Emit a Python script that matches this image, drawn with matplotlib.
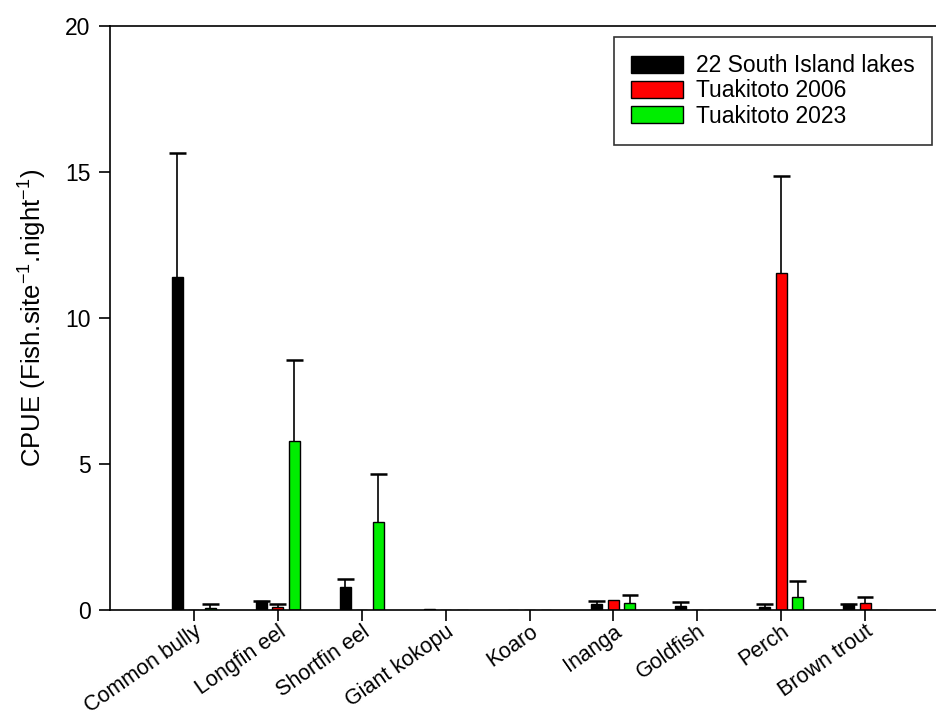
import numpy as np
import matplotlib
matplotlib.use("Agg")
import matplotlib.pyplot as plt

plt.rcParams["font.family"] = ["Liberation Sans", "DejaVu Sans"]
plt.rcParams["mathtext.fontset"] = "custom"
plt.rcParams["mathtext.rm"] = "Liberation Sans"

# data
species = ["Common bully", "Longfin eel", "Shortfin eel", "Giant kokopu", "Koaro",
           "Inanga", "Goldfish", "Perch", "Brown trout"]
series = ["22 South Island lakes", "Tuakitoto 2006", "Tuakitoto 2023"]
colors = ["black", "#ff0000", "#00ee00"]

si_lakes = [11.4, 0.30, 0.80, 0.03, 0.0, 0.20, 0.15, 0.11, 0.20]
si_lakes_se = [4.25, 0.02, 0.27, 0.0, 0.0, 0.10, 0.11, 0.08, 0.02]
tk2006 = [0.0, 0.10, 0.0, 0.0, 0.0, 0.33, 0.0, 11.55, 0.23]
tk2006_se = [0.0, 0.12, 0.0, 0.0, 0.0, 0.0, 0.0, 3.31, 0.21]
tk2023 = [0.06, 5.80, 3.00, 0.0, 0.0, 0.23, 0.0, 0.43, 0.0]
tk2023_se = [0.13, 2.76, 1.65, 0.0, 0.0, 0.27, 0.0, 0.56, 0.0]

values = [si_lakes, tk2006, tk2023]
errors = [si_lakes_se, tk2006_se, tk2023_se]

fig = plt.figure(figsize=(9.36, 7.2), dpi=100)
ax = fig.add_axes([110 / 936, 110 / 720, 839 / 936, 584 / 720])

x = np.arange(len(species))
offsets = [-0.197, 0.0, 0.197]
width = 0.13
cap = 0.1

for vals, errs, off, col, lab in zip(values, errors, offsets, colors, series):
    vals = np.array(vals)
    errs = np.array(errs)
    ax.bar(x + off, vals, width, color=col, edgecolor="black", linewidth=1, label=lab, zorder=2)
    # upper error bars only
    m = errs > 0
    xe = x[m] + off
    top = vals[m] + errs[m]
    ax.vlines(xe, vals[m], top, color="black", linewidth=1.2, zorder=1)
    ax.hlines(top, xe - cap, xe + cap, color="black", linewidth=1.8, zorder=1)

ax.set_xlim(-1, 9)
ax.set_ylim(0, 20)
ax.set_yticks([0, 5, 10, 15, 20])
ax.set_xticks(x)
ax.set_xticklabels(species, rotation=35, ha="right", va="top", rotation_mode="anchor", fontsize=15.5)
ax.tick_params(axis="y", labelsize=16.5, direction="out", length=8, width=1.2, pad=6)
ax.tick_params(axis="x", direction="out", length=8, width=1.2, pad=0)
for s in ax.spines.values():
    s.set_linewidth(1.2)

ax.set_ylabel("CPUE (Fish.site$^{-1}$.night$^{-1}$)", fontsize=18.5, labelpad=12)

leg = ax.legend(loc="upper right", bbox_to_anchor=(932 / 936, 683 / 720),
                bbox_transform=fig.transFigure, fontsize=16.5, frameon=True, fancybox=False,
                edgecolor="black", handlelength=2.3, handleheight=0.75, handletextpad=0.55,
                labelspacing=0.1, borderpad=0.75, borderaxespad=0)
leg.get_frame().set_linewidth(1.2)

fig.savefig("out.png", dpi=100)
